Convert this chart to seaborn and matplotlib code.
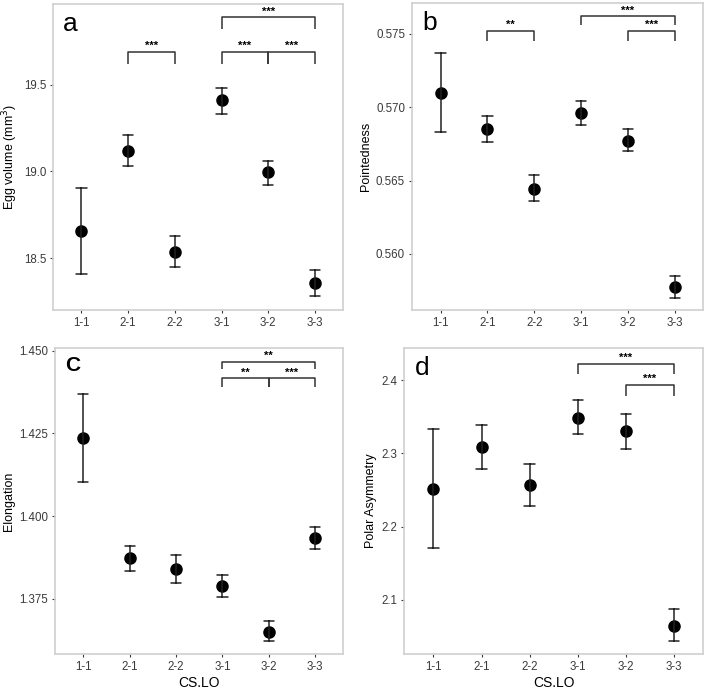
import numpy as np
import pandas as pd
import matplotlib
matplotlib.use('Agg')
import matplotlib.pyplot as plt
import seaborn as sns

groups = ['1-1', '2-1', '2-2', '3-1', '3-2', '3-3']

# mean, lower and upper ends of the error bars
egg_mean = [18.655, 19.12, 18.535, 19.41, 18.994, 18.356]
egg_lo = [18.41, 19.03, 18.448, 19.333, 18.923, 18.279]
egg_hi = [18.904, 19.21, 18.625, 19.48, 19.063, 18.432]

point_mean = [0.5710, 0.5685, 0.56445, 0.5696, 0.5677, 0.55773]
point_lo = [0.5683, 0.5676, 0.5636, 0.5688, 0.5670, 0.5570]
point_hi = [0.5737, 0.5694, 0.5654, 0.5704, 0.5685, 0.5585]

elong_mean = [1.4235, 1.3873, 1.3840, 1.3790, 1.3651, 1.3933]
elong_lo = [1.4103, 1.3835, 1.3799, 1.3756, 1.3621, 1.3901]
elong_hi = [1.4368, 1.3910, 1.3881, 1.3823, 1.3682, 1.3967]

polar_mean = [2.2518, 2.3082, 2.2564, 2.3486, 2.3300, 2.0645]
polar_lo = [2.1714, 2.2790, 2.2286, 2.3259, 2.3064, 2.0432]
polar_hi = [2.3327, 2.3382, 2.2850, 2.3736, 2.3540, 2.0877]

# significance brackets: (left group, right group, y of bar, y of tick ends, label)
egg_sig = [(1, 2, 19.692, 19.62, '***'), (3, 4, 19.692, 19.62, '***'),
           (4, 5, 19.692, 19.62, '***'), (3, 5, 19.89, 19.82, '***')]
point_sig = [(1, 2, 0.5752, 0.5745, '**'), (4, 5, 0.5752, 0.5745, '***'),
             (3, 5, 0.5762, 0.5756, '***')]
elong_sig = [(3, 4, 1.4416, 1.4391, '**'), (4, 5, 1.4416, 1.4391, '***'),
             (3, 5, 1.4467, 1.4445, '**')]
polar_sig = [(4, 5, 2.394, 2.3786, '***'), (3, 5, 2.4227, 2.4086, '***')]

sns.set_theme(style='white')
plt.rcParams['font.family'] = ['Liberation Sans', 'DejaVu Sans']

W, H = 709, 690
fig = plt.figure(figsize=(W / 100, H / 100), dpi=100)


def make_axes(x0, y0, x1, y1):
    return fig.add_axes([x0 / W, 1 - y1 / H, (x1 - x0) / W, (y1 - y0) / H])


def yticks_fmt(ticks):
    ndig = max(len(f'{t:g}'.split('.')[-1]) if '.' in f'{t:g}' else 0 for t in ticks)
    ndig = max(ndig, 1)
    return [f'{t:.{ndig}f}' for t in ticks]


def draw_panel(ax, mean, lo, hi, ylim, yticks, ylabel, letter, sig,
               xlabel=None, letter_kw=None):
    df = pd.DataFrame({
        'CS.LO': np.repeat(groups, 3),
        'value': np.ravel(np.column_stack([lo, mean, hi])),
    })
    sns.pointplot(data=df, x='CS.LO', y='value', estimator='median',
                  errorbar=('pi', 100), linestyle='none', color='black',
                  marker='o', markersize=7, capsize=0.22,
                  err_kws={'linewidth': 1.1, 'color': '#222222'}, ax=ax)
    ax.set_xlim(-0.61, 5.6)
    ax.set_ylim(*ylim)
    ax.set_yticks(yticks)
    ax.set_yticklabels(yticks_fmt(yticks))
    ax.set_ylabel(ylabel, fontsize=9, color='black', labelpad=3)
    if xlabel:
        ax.set_xlabel(xlabel, fontsize=10, color='black', labelpad=2)
    else:
        ax.set_xlabel('')
    for s in ax.spines.values():
        s.set_color('#cfcfcf')
        s.set_linewidth(1.2)
    ax.tick_params(axis='both', which='both', labelsize=8.3, colors='#3a3a3a',
                   length=2.5, width=0.8, direction='out', bottom=True, left=True,
                   pad=2.5)
    for t in ax.get_xticklines() + ax.get_yticklines():
        t.set_color('#bbbbbb')
    kw = dict(fontsize=19)
    if letter_kw:
        kw.update(letter_kw)
    ax.text(0.035, 0.975, letter, transform=ax.transAxes, ha='left', va='top',
            color='black', **kw)
    for a, b, ybar, yend, lab in sig:
        ax.plot([a, a, b, b], [yend, ybar, ybar, yend], color='#333333',
                lw=1.1, solid_capstyle='butt')
        ax.annotate(lab, xy=((a + b) / 2, ybar), xytext=(0, 0.5),
                    textcoords='offset points', ha='center', va='bottom',
                    fontsize=8, fontweight='bold', color='black')


ax_a = make_axes(53, 4, 343, 310)
draw_panel(ax_a, egg_mean, egg_lo, egg_hi, (18.20, 19.967), [18.5, 19.0, 19.5],
           'Egg volume (mm$^3$)', 'a', egg_sig)

ax_b = make_axes(412, 3, 703, 310)
draw_panel(ax_b, point_mean, point_lo, point_hi, (0.55618, 0.5771),
           [0.560, 0.565, 0.570, 0.575], 'Pointedness', 'b', point_sig)

ax_c = make_axes(55, 348, 343, 654)
draw_panel(ax_c, elong_mean, elong_lo, elong_hi, (1.3583, 1.4508),
           [1.375, 1.400, 1.425, 1.450], 'Elongation', 'C', elong_sig,
           xlabel='CS.LO', letter_kw={'fontsize': 15, 'fontweight': 'bold'})

ax_d = make_axes(404, 348, 703, 654)
draw_panel(ax_d, polar_mean, polar_lo, polar_hi, (2.026, 2.444),
           [2.1, 2.2, 2.3, 2.4], 'Polar Asymmetry', 'd', polar_sig,
           xlabel='CS.LO')

fig.savefig('out.png', dpi=100)
